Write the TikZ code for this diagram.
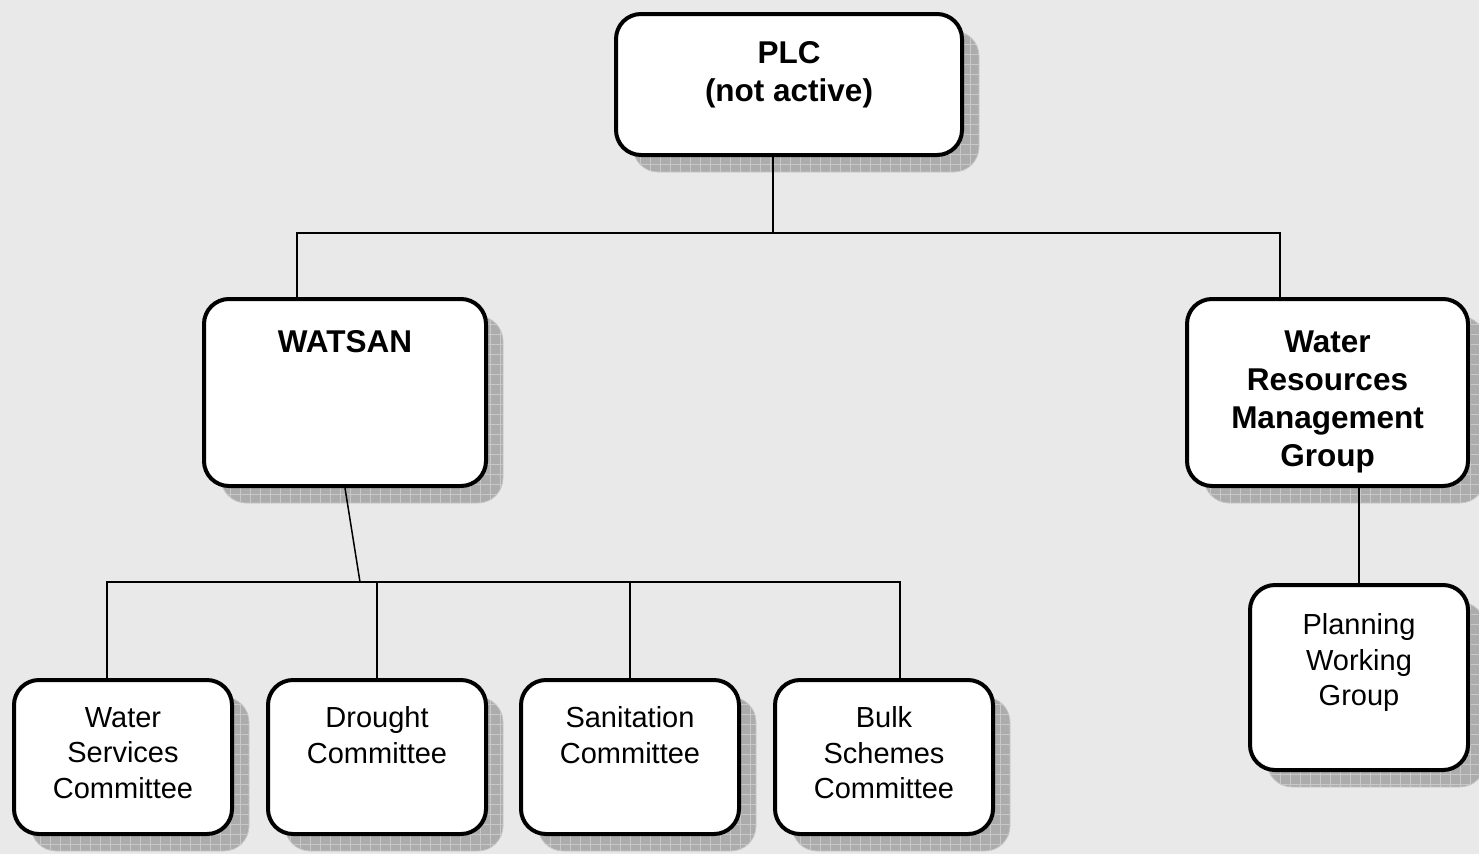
\documentclass[tikz,border=0pt]{standalone}
\usepackage{fontspec}
\setmainfont{Liberation Sans}
\usetikzlibrary{patterns.meta}
\definecolor{bg}{RGB}{233,233,233}
\definecolor{shd}{RGB}{172,172,172}
\definecolor{shdline}{RGB}{200,200,200}
\tikzset{
  box/.style={draw=black, line width=4pt, fill=white, rounded corners=25pt, inner sep=0pt},
  shadowbox/.style={rounded corners=25pt, inner sep=0pt, draw=shdline, line width=0.8pt,
    preaction={fill=shd},
    pattern={Lines[distance=10pt, angle=0, line width=0.7pt]}, pattern color=shdline,
    postaction={pattern={Lines[distance=10pt, angle=90, line width=0.7pt]}, pattern color=shdline}},
  conn/.style={draw=black, line width=1.5pt},
  btext/.style={align=center, font=\fontsize{31.5}{38}\selectfont\bfseries, inner sep=0pt},
  ntext/.style={align=center, font=\fontsize{29}{35.5}\selectfont, inner sep=0pt}
}
\newcommand\obox[5]{%
  \node[shadowbox, minimum width=#4pt, minimum height=#5pt] at ({#2+17},{#3+17}) {};
  \node[box, minimum width=#4pt, minimum height=#5pt] (#1) at (#2,#3) {};
}
\begin{document}
\begin{tikzpicture}[x=1pt, y=-1pt]
\fill[bg] (0,0) rectangle (1479,854);
\useasboundingbox (0,0) rectangle (1479,854);
% boxes
\obox{plc}{789}{84.5}{346}{141}
\obox{watsan}{345}{392.5}{282}{187}
\obox{wrmg}{1327.5}{392.5}{281}{187}
\obox{pwg}{1359}{677.5}{218}{185}
\obox{wsc}{123}{757}{218}{154}
\obox{dc}{377}{757}{218}{154}
\obox{sc}{630}{757}{218}{154}
\obox{bsc}{884}{757}{218}{154}
% texts
\node[btext] (plct) at (789,74.5) {PLC\\(not active)};
\node[btext] (watsant) at (345,342) {WATSAN};
\node[btext] (wrmgt) at (1327.5,401.5) {Water\\Resources\\Management\\Group};
\node[ntext] (pwgt) at (1359,662.5) {Planning\\Working\\Group};
\node[ntext] (wsct) at (123,753) {Water\\Services\\Committee};
\node[ntext] (dct) at (377,735) {Drought\\Committee};
\node[ntext] (sct) at (630,735) {Sanitation\\Committee};
\node[ntext] (bsct) at (884,753) {Bulk\\Schemes\\Committee};
% connectors
\coordinate (j0) at (773,233);
\coordinate (b1) at (297,233);
\coordinate (b2) at (1280,233);
\coordinate (w1) at (360,582);
\coordinate (c1) at (107,582);
\coordinate (c2) at (377,582);
\coordinate (c3) at (630,582);
\coordinate (c4) at (900,582);
\draw[conn] (plc.south -| j0) -- (j0);
\draw[conn] (watsan.north -| b1) -- (b1) -- (b2) -- (wrmg.north -| b2);
\draw[conn] (watsan.south) -- (w1);
\draw[conn] (wsc.north -| c1) -- (c1) -- (c4) -- (bsc.north -| c4);
\draw[conn] (c2) -- (dc.north -| c2);
\draw[conn] (c3) -- (sc.north -| c3);
\draw[conn] (wrmg.south -| pwg.north) -- (pwg.north);
\end{tikzpicture}
\end{document}
